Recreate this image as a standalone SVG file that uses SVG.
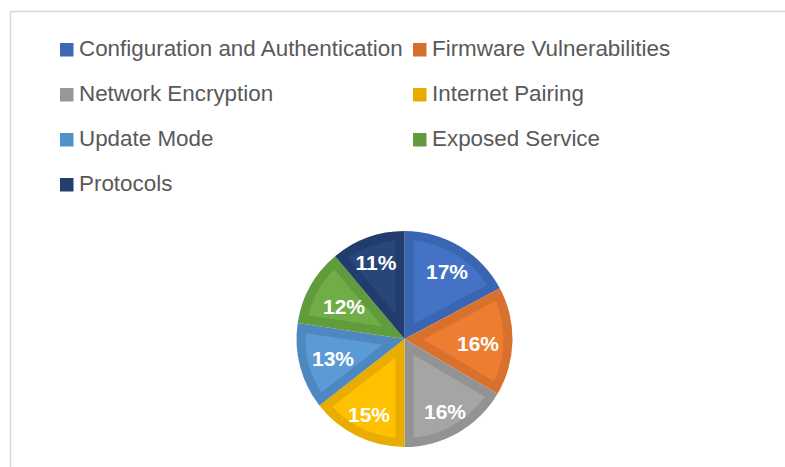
<svg xmlns="http://www.w3.org/2000/svg" width="785" height="467" viewBox="0 0 785 467">
<style>
.lg{font-family:"Liberation Sans",Arial,sans-serif;font-size:22.4px;fill:#595959}
.pc{font-family:"Liberation Sans",Arial,sans-serif;font-size:21px;font-weight:bold;fill:#ffffff;text-anchor:middle}
.frame{fill:none;stroke:#d9d9d9;stroke-width:1.5}
</style>
<rect width="785" height="467" fill="#ffffff"/>
<path class="frame" d="M10.5,467 V11.5 H785"/>
<g id="legend">
<g id="lg-config"><rect x="60" y="43" width="13.5" height="13.5" fill="#3e68b6"/><text class="lg" x="79" y="56">Configuration and Authentication</text></g>
<g id="lg-firmware"><rect x="413" y="43" width="13.5" height="13.5" fill="#d66f2c"/><text class="lg" x="432" y="56">Firmware Vulnerabilities</text></g>
<g id="lg-network"><rect x="60" y="88" width="13.5" height="13.5" fill="#979797"/><text class="lg" x="79" y="101">Network Encryption</text></g>
<g id="lg-internet"><rect x="413" y="88" width="13.5" height="13.5" fill="#e6ac00"/><text class="lg" x="432" y="101">Internet Pairing</text></g>
<g id="lg-update"><rect x="60" y="133" width="13.5" height="13.5" fill="#5290c8"/><text class="lg" x="79" y="146">Update Mode</text></g>
<g id="lg-exposed"><rect x="413" y="133" width="13.5" height="13.5" fill="#629a3f"/><text class="lg" x="432" y="146">Exposed Service</text></g>
<g id="lg-protocols"><rect x="60" y="178" width="13.5" height="13.5" fill="#243f6d"/><text class="lg" x="79" y="191">Protocols</text></g>
</g>
<g id="pie">
<g id="slice-config">
<path d="M404.5,339 L404.5,231 A108,108 0 0,1 499.86,288.30 Z" fill="#3a65b3"/>
<path d="M413.5,324.02 L413.5,240.41 A99,99 0 0,1 487.32,284.76 Z" fill="#4472c4"/>
<text class="pc" x="447" y="278.5">17%</text>
</g>
<g id="slice-firmware">
<path d="M404.5,339 L499.86,288.30 A108,108 0 0,1 497.56,393.81 Z" fill="#d8712d"/>
<path d="M422.92,339.40 L495.78,300.66 A99,99 0 0,1 494.02,381.29 Z" fill="#ed7d31"/>
<text class="pc" x="478" y="350.5">16%</text>
</g>
<g id="slice-network">
<path d="M404.5,339 L497.56,393.81 A108,108 0 0,1 404.5,447 Z" fill="#939393"/>
<path d="M413.5,354.74 L484.88,396.79 A99,99 0 0,1 413.5,437.59 Z" fill="#a5a5a5"/>
<text class="pc" x="445" y="418.5">16%</text>
</g>
<g id="slice-internet">
<path d="M404.5,339 L404.5,447 A108,108 0 0,1 319.39,405.49 Z" fill="#e8ad00"/>
<path d="M395.5,357.45 L395.5,437.59 A99,99 0 0,1 332.35,406.79 Z" fill="#ffc000"/>
<text class="pc" x="369" y="421.5">15%</text>
</g>
<g id="slice-update">
<path d="M404.5,339 L319.39,405.49 A108,108 0 0,1 297.69,323.04 Z" fill="#4d88c0"/>
<path d="M382.45,344.80 L321.27,392.61 A99,99 0 0,1 305.66,333.33 Z" fill="#5b9bd5"/>
<text class="pc" x="333" y="365.5">13%</text>
</g>
<g id="slice-exposed">
<path d="M404.5,339 L297.69,323.04 A108,108 0 0,1 335.08,256.27 Z" fill="#609b3c"/>
<path d="M382.34,326.59 L308.32,315.53 A99,99 0 0,1 334.24,269.27 Z" fill="#70ad47"/>
<text class="pc" x="344" y="313.5">12%</text>
</g>
<g id="slice-protocols">
<path d="M404.5,339 L335.08,256.27 A108,108 0 0,1 404.5,231 Z" fill="#223d6b"/>
<path d="M395.5,314.28 L348.02,257.69 A99,99 0 0,1 395.5,240.41 Z" fill="#284679"/>
<text class="pc" x="376" y="269.5">11%</text>
</g>
</g>
</svg>
